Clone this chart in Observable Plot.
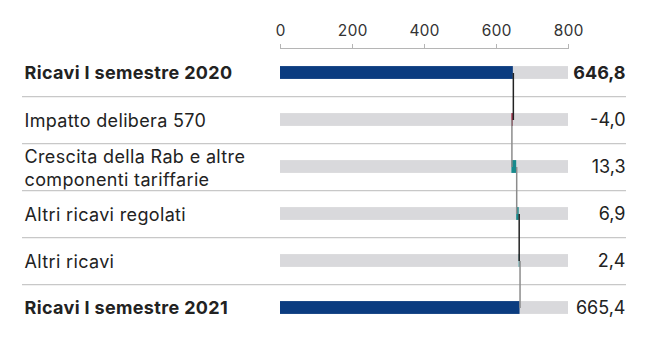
<!DOCTYPE html>
<html>
<head>
<meta charset="utf-8">
<script src="https://cdn.jsdelivr.net/npm/d3@7"></script>
<script src="https://cdn.jsdelivr.net/npm/@observablehq/plot@0.6"></script>
<style>
  html, body { margin: 0; padding: 0; background: #fff; }
  #chart svg { display: block; }
  #chart svg .lbl text, #chart svg text.lbl { letter-spacing: 0.35px; }
</style>
</head>
<body>
<div id="chart"></div>
<script>
// ---- data ----
const labels = [
  "Ricavi I semestre 2020",
  "Impatto delibera 570",
  "Crescita della Rab e altre\ncomponenti tariffarie",
  "Altri ricavi regolati",
  "Altri ricavi",
  "Ricavi I semestre 2021"
];
const values = [646.8, -4.0, 13.3, 6.9, 2.4, 665.4];
const kinds = ["total", "delta", "delta", "delta", "delta", "total"];
const xTicks = [0, 200, 400, 600, 800];
const xMax = 800;

// ---- derived table ----
let run = 0;
const rows = labels.map((label, i) => {
  let start, end;
  if (kinds[i] === "total") { start = 0; end = values[i]; run = values[i]; }
  else { start = run; end = run + values[i]; run = end; }
  return {label, value: values[i], kind: kinds[i], start, end, i,
          text: values[i].toFixed(1).replace(".", ",")};
});
const links = rows.slice(0, -1).map((r, i) => ({from: r.label, to: rows[i + 1].label, x: r.end, i}));

// ---- styles ----
const colTotal = "#0b3c80", colNeg = "#9e1b3b", colPos = "#178a8c";
const connectorColors = ["#222", "#8c8c8c", "#8c8c8c", "#222", "#8c8c8c"];
const font = "Inter, 'Noto Sans', sans-serif";

const W = 651, H = 340, mTop = 48, mBottom = 9;
const step = (H - mTop - mBottom) / labels.length;
const inset = (step - 13) / 2;

const boldLabel = rows.filter(d => d.kind === "total");
const normLabel = rows.filter(d => d.kind !== "total");

const chart = Plot.plot({
  width: W, height: H,
  marginTop: mTop, marginBottom: mBottom, marginLeft: 280, marginRight: 83,
  style: {fontFamily: font, color: "#222", background: "#fff", overflow: "visible"},
  x: {domain: [0, xMax], axis: null},
  y: {domain: labels, type: "band", padding: 0, axis: null},
  marks: [
    Plot.frame({anchor: "top", stroke: "#b5b5b5"}),
    Plot.axisX(xTicks, {anchor: "top", tickSize: 5, tickPadding: 8, stroke: "#b5b5b5",
      fontSize: 15.5, fill: "#333", tickFormat: d => String(d)}),
    Plot.ruleY(labels.slice(0, -1), {y: d => d, dy: step / 2, stroke: "#c8c8c8", strokeWidth: 1.2,
      insetLeft: -258, insetRight: -58}),
    Plot.barX(rows, {y: "label", x1: 0, x2: xMax, fill: "#d9d9dc", insetTop: inset, insetBottom: inset}),
    Plot.barX(rows, {y: "label", x1: "start", x2: "end", insetTop: inset, insetBottom: inset,
      fill: d => d.kind === "total" ? colTotal : (d.value < 0 ? colNeg : colPos)}),
    Plot.link(links, {x1: "x", x2: "x", y1: "from", y2: "to", stroke: (d) => connectorColors[d.i], strokeWidth: 1.5}),
    Plot.text(normLabel, {y: "label", text: "label", frameAnchor: "left", dx: -256, textAnchor: "start",
      fontSize: 18, lineHeight: 1.28, fill: "#222", className: "lbl"}),
    Plot.text(boldLabel, {y: "label", text: "label", frameAnchor: "left", dx: -256, textAnchor: "start",
      fontSize: 18, fontWeight: 700, fill: "#222", className: "lbl"}),
    Plot.text(rows.filter(d => d.i !== 0), {y: "label", text: "text", frameAnchor: "right", dx: 57, textAnchor: "end",
      fontSize: 18, fill: "#222"}),
    Plot.text(rows.filter(d => d.i === 0), {y: "label", text: "text", frameAnchor: "right", dx: 57, textAnchor: "end",
      fontSize: 18, fontWeight: 700, fill: "#222"})
  ]
});
document.getElementById("chart").appendChild(chart);
</script>
</body>
</html>
